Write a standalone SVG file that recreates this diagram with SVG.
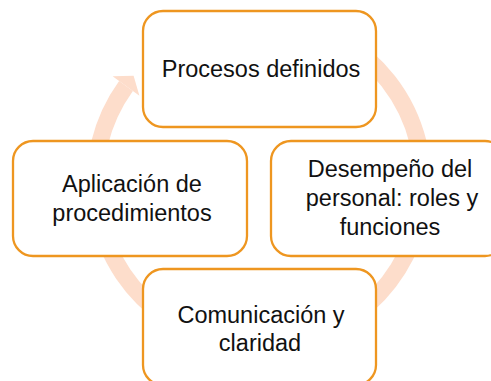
<svg xmlns="http://www.w3.org/2000/svg" width="491" height="381" viewBox="0 0 491 381">
<style>
.box{fill:#ffffff;stroke:#EE9620;stroke-width:2.3}
.t{font-family:"Liberation Sans",Arial,sans-serif;font-size:23.5px;fill:#111111;text-anchor:middle}
.ring{fill:none;stroke:#FDDDCB;stroke-width:17}
</style>
<rect width="491" height="381" fill="#ffffff"/>
<g id="connectors">
<path class="ring" d="M341,40 A164,164 0 1 1 126,86"/>
<polygon points="112.6,76.3 133.6,75.8 139.4,95.7" fill="#FDDDCB"/>
</g>
<g id="node-procesos">
<rect class="box" x="143" y="11" width="233" height="116" rx="20"/>
<text class="t" x="261" y="77">Procesos definidos</text>
</g>
<g id="node-desempeno">
<rect class="box" x="271" y="141" width="234" height="115" rx="20"/>
<text class="t" x="390" y="177">Desempeño del</text>
<text class="t" x="392" y="206">personal: roles y</text>
<text class="t" x="390" y="235">funciones</text>
</g>
<g id="node-comunicacion">
<rect class="box" x="143" y="269" width="233" height="116" rx="20"/>
<text class="t" x="261" y="323">Comunicación y</text>
<text class="t" x="260" y="351">claridad</text>
</g>
<g id="node-aplicacion">
<rect class="box" x="13" y="141" width="234" height="115" rx="20"/>
<text class="t" x="132" y="192">Aplicación de</text>
<text class="t" x="132" y="221">procedimientos</text>
</g>
</svg>
